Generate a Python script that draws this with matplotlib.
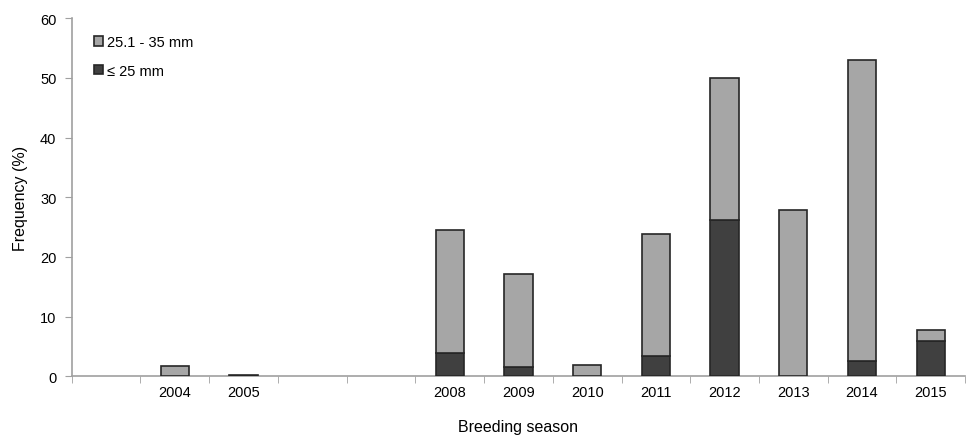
import numpy as np
import matplotlib
matplotlib.use("Agg")
import matplotlib.pyplot as plt

plt.rcParams['font.family'] = ['Liberation Sans', 'DejaVu Sans']

seasons = ['', '2004', '2005', '', '', '2008', '2009', '2010', '2011', '2012', '2013', '2014', '2015']
small = [0, 0, 0, 0, 0, 3.85, 1.6, 0, 3.45, 26.2, 0, 2.6, 5.9]          # <= 25 mm
total = [0, 1.8, 0.2, 0, 0, 24.5, 17.1, 1.95, 23.8, 50.0, 27.9, 53.0, 7.8]
medium = [t - s for t, s in zip(total, small)]                          # 25.1 - 35 mm

light = '#a6a6a6'
dark = '#404040'
edge = '#262626'
axcol = '#a0a0a0'

fig = plt.figure(figsize=(9.69, 4.39), dpi=100)
ax = fig.add_axes([0.074, 0.1405, 0.922, 0.8155])

x = np.arange(len(seasons))
w = 0.41
# only draw bars where there is data
has = [t > 0 for t in total]
xs = x[has]
sm = np.array(small)[has]
md = np.array(medium)[has]
b1 = ax.bar(xs, sm, w, color=dark, edgecolor=edge, linewidth=1.2, label='\u2264 25 mm', zorder=3)
b2 = ax.bar(xs, md, w, bottom=sm, color=light, edgecolor=edge, linewidth=1.2, label='25.1 - 35 mm', zorder=3)

ax.set_xlim(-0.5, len(seasons) - 0.5)
ax.set_ylim(0, 60)
ax.set_yticks(range(0, 61, 10))
ax.set_xticks(x)
ax.set_xticklabels(seasons, fontsize=10.5)
ax.set_xticks(np.arange(-0.5, len(seasons), 1), minor=True)
ax.tick_params(axis='x', which='major', length=0, pad=6)
ax.tick_params(axis='x', which='minor', length=5, color=axcol, direction='out')
ax.tick_params(axis='y', length=5, color=axcol, labelsize=10.5, pad=6)

for s in ['top', 'right']:
    ax.spines[s].set_visible(False)
for s in ['left', 'bottom']:
    ax.spines[s].set_color(axcol)
    ax.spines[s].set_linewidth(1.2)

ax.set_xlabel('Breeding season', fontsize=11.5, labelpad=15)
ax.set_ylabel('Frequency (%)', fontsize=11.5, labelpad=9)

ax.legend([b2, b1], ['25.1 - 35 mm', '\u2264 25 mm'], loc='upper left', bbox_to_anchor=(0.01, 0.99),
          frameon=False, fontsize=10.5, handlelength=0.6, handleheight=0.6,
          handletextpad=0.3, labelspacing=1.0)

fig.savefig('out.png', dpi=100)
